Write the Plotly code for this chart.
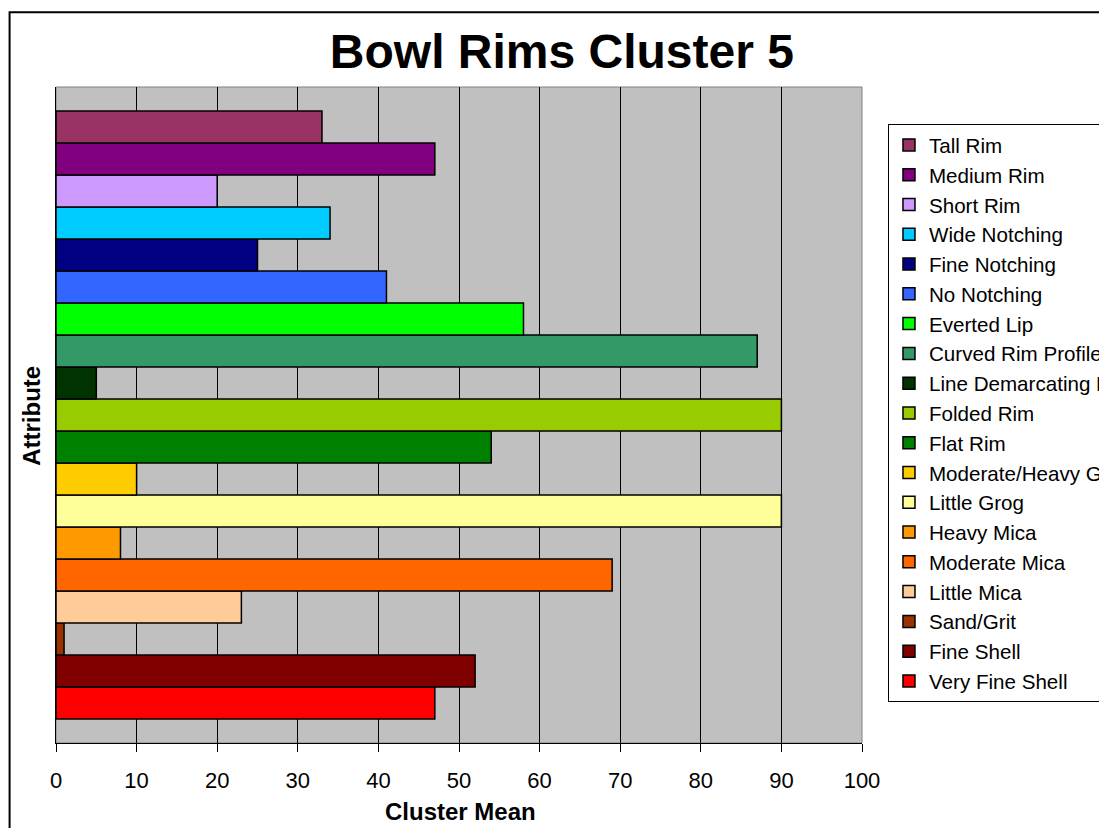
import plotly.graph_objects as go

# attributes listed bottom-to-top (Excel draws the first series at the bottom)
attributes = ["Very Fine Shell", "Fine Shell", "Sand/Grit", "Little Mica", "Moderate Mica",
              "Heavy Mica", "Little Grog", "Moderate/Heavy Grog", "Flat Rim", "Folded Rim",
              "Line Demarcating Rim", "Curved Rim Profile", "Everted Lip", "No Notching",
              "Fine Notching", "Wide Notching", "Short Rim", "Medium Rim", "Tall Rim"]
cluster_means = [47, 52, 1, 23, 69, 8, 90, 10, 54, 90, 5, 87, 58, 41, 25, 34, 20, 47, 33]
bar_colors = ["#FF0000", "#800000", "#993300", "#FFCC99", "#FF6600", "#FF9900", "#FFFF99",
              "#FFCC00", "#008000", "#99CC00", "#003300", "#339966", "#00FF00", "#3366FF",
              "#000080", "#00CCFF", "#CC99FF", "#800080", "#993366"]
x_ticks = [0, 10, 20, 30, 40, 50, 60, 70, 80, 90, 100]

font = "Arial, Liberation Sans, sans-serif"

fig = go.Figure()
for name, val, col in zip(attributes, cluster_means, bar_colors):
    fig.add_trace(go.Bar(
        x=[val], y=["Cluster 5"], orientation="h", name=name,
        marker=dict(color=col, line=dict(color="black", width=1.5)),
    ))

# page body has an 8px margin, so the figure is sized/offset to match
fig.update_layout(
    width=1099, height=820,
    margin=dict(l=47.5, r=244.7, t=78.7, b=85.3),
    paper_bgcolor="white", plot_bgcolor="#C0C0C0",
    barmode="group", bargap=0.0732, bargroupgap=0,
    font=dict(family=font, color="black", size=22),
    title=dict(text="<b>Bowl Rims Cluster 5</b>", x=0.504, xanchor="center",
               y=0.947, yanchor="middle", font=dict(size=48, family=font)),
    showlegend=True,
    legend=dict(xref="container", yref="container", x=0.8007, xanchor="left",
                y=0.8585, yanchor="top", traceorder="reversed", maxheight=700,
                bgcolor="white", bordercolor="black", borderwidth=1,
                font=dict(size=20.6, family=font)),
    xaxis=dict(range=[0, 100], tickvals=x_ticks, showgrid=True, gridcolor="black",
               gridwidth=1, zeroline=False, showline=True, linecolor="black",
               linewidth=1, ticks="outside", ticklen=8, tickcolor="black",
               tickfont=dict(size=22), ticklabelstandoff=10, automargin=False),
    yaxis=dict(showticklabels=False, showgrid=False, showline=True, linecolor="black",
               linewidth=1, ticks="", automargin=False),
)

fig.add_annotation(text="<b>Cluster Mean</b>", xref="paper", yref="paper",
                   x=0.5014, y=-0.1041, xanchor="center", yanchor="middle",
                   showarrow=False, font=dict(size=24))
fig.add_annotation(text="<b>Attribute</b>", xref="paper", yref="paper",
                   x=-0.0304, y=0.4995, xanchor="center", yanchor="middle",
                   showarrow=False, textangle=-90, font=dict(size=24))

# plot-area frame and outer chart border
fig.add_shape(type="rect", xref="paper", yref="paper", x0=0, x1=1, y0=0, y1=1,
              line=dict(color="#808080", width=1), layer="below")
fig.add_shape(type="rect", xref="paper", yref="paper", x0=-0.0576, x1=1.6,
              y0=-0.6, y1=1.1139, line=dict(color="black", width=2))

fig.write_html("out.html")
